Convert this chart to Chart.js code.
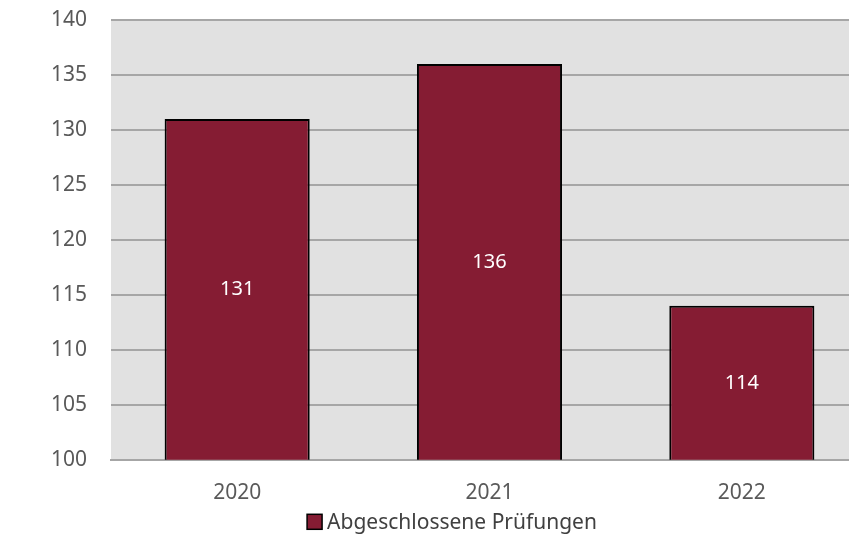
<!DOCTYPE html>
<html><head><meta charset="utf-8">
<script src="https://cdn.jsdelivr.net/npm/chart.js@4/dist/chart.umd.min.js"></script>
<style>
html,body{margin:0;padding:0;background:#fff;overflow:hidden;width:849px;height:537px;}
#wrap{position:absolute;left:0;top:0;width:870px;height:537px;}
</style></head>
<body>
<div id="wrap"><canvas id="c" width="870" height="537"></canvas></div>
<script>
const categories = ["2020", "2021", "2022"];
const seriesName = "Abgeschlossene Prüfungen";
const values = [131, 136, 114];
const yTicks = [100, 105, 110, 115, 120, 125, 130, 135, 140];

const FONT = "'Noto Sans', 'Open Sans', sans-serif";
const FS = 21;
const BAR = '#851c33';

const bgPlugin = {
  id: 'bgfill',
  beforeDraw(chart) {
    const {ctx, chartArea: a} = chart;
    ctx.save();
    ctx.fillStyle = '#e1e1e1';
    ctx.fillRect(a.left, a.top, a.right - a.left, a.bottom - a.top);
    ctx.restore();
  }
};

const labelPlugin = {
  id: 'valuelabels',
  afterDraw(chart) {
    const ctx = chart.ctx;
    const xs = chart.scales.x, ys = chart.scales.y;
    ctx.save();
    ctx.fillStyle = '#ffffff';
    ctx.font = (FS - 1) + 'px ' + FONT;
    ctx.textAlign = 'center';
    ctx.textBaseline = 'middle';
    values.forEach((v, i) => {
      const x = xs.getPixelForValue(i);
      const y = (ys.getPixelForValue(v) + ys.getPixelForValue(ys.min)) / 2;
      ctx.fillText(String(v), x, y);
    });
    // legend
    const ds = chart.data.datasets[0];
    ctx.font = FS + 'px ' + FONT;
    const tw = ctx.measureText(ds.label).width;
    const box = 15, gap = 5;
    const total = box + gap + tw;
    const cx = (36 + chart.chartArea.right) / 2;
    const left = cx - total / 2;
    const cy = chart.chartArea.bottom + 62;
    ctx.fillStyle = ds.backgroundColor;
    ctx.fillRect(left, cy - box / 2, box, box);
    ctx.strokeStyle = '#000';
    ctx.lineWidth = 1.5;
    ctx.strokeRect(left, cy - box / 2, box, box);
    ctx.fillStyle = '#404040';
    ctx.textAlign = 'left';
    ctx.fillText(ds.label, left + box + gap, cy + 1);
    ctx.restore();
  }
};

new Chart(document.getElementById('c'), {
  type: 'bar',
  data: {
    labels: categories,
    datasets: [{
      label: seriesName,
      data: values,
      backgroundColor: BAR,
      borderColor: '#000000',
      borderWidth: 2,
      barPercentage: 0.575,
      categoryPercentage: 1.0
    }]
  },
  options: {
    responsive: false,
    animation: false,
    layout: { autoPadding: false, padding: { left: 36, right: 2, top: 20, bottom: 18 } },
    plugins: {
      legend: { display: false },
      tooltip: { enabled: false }
    },
    scales: {
      x: {
        grid: { display: false },
        border: { display: true, color: '#a6a6a6', width: 2 },
        ticks: { font: { family: FONT, size: FS }, color: '#595959', padding: 13 }
      },
      y: {
        min: 100, max: 140,
        afterFit(scale) { scale.width = 75; scale.paddingTop = 0; scale.paddingBottom = 0; },
        afterBuildTicks(scale) { scale.ticks = yTicks.map(v => ({ value: v })); },
        grid: { color: '#a6a6a6', lineWidth: 2, drawTicks: false },
        border: { display: false },
        ticks: { font: { family: FONT, size: FS }, color: '#595959', padding: 24 }
      }
    }
  },
  plugins: [bgPlugin, labelPlugin]
});
</script>
</body></html>
